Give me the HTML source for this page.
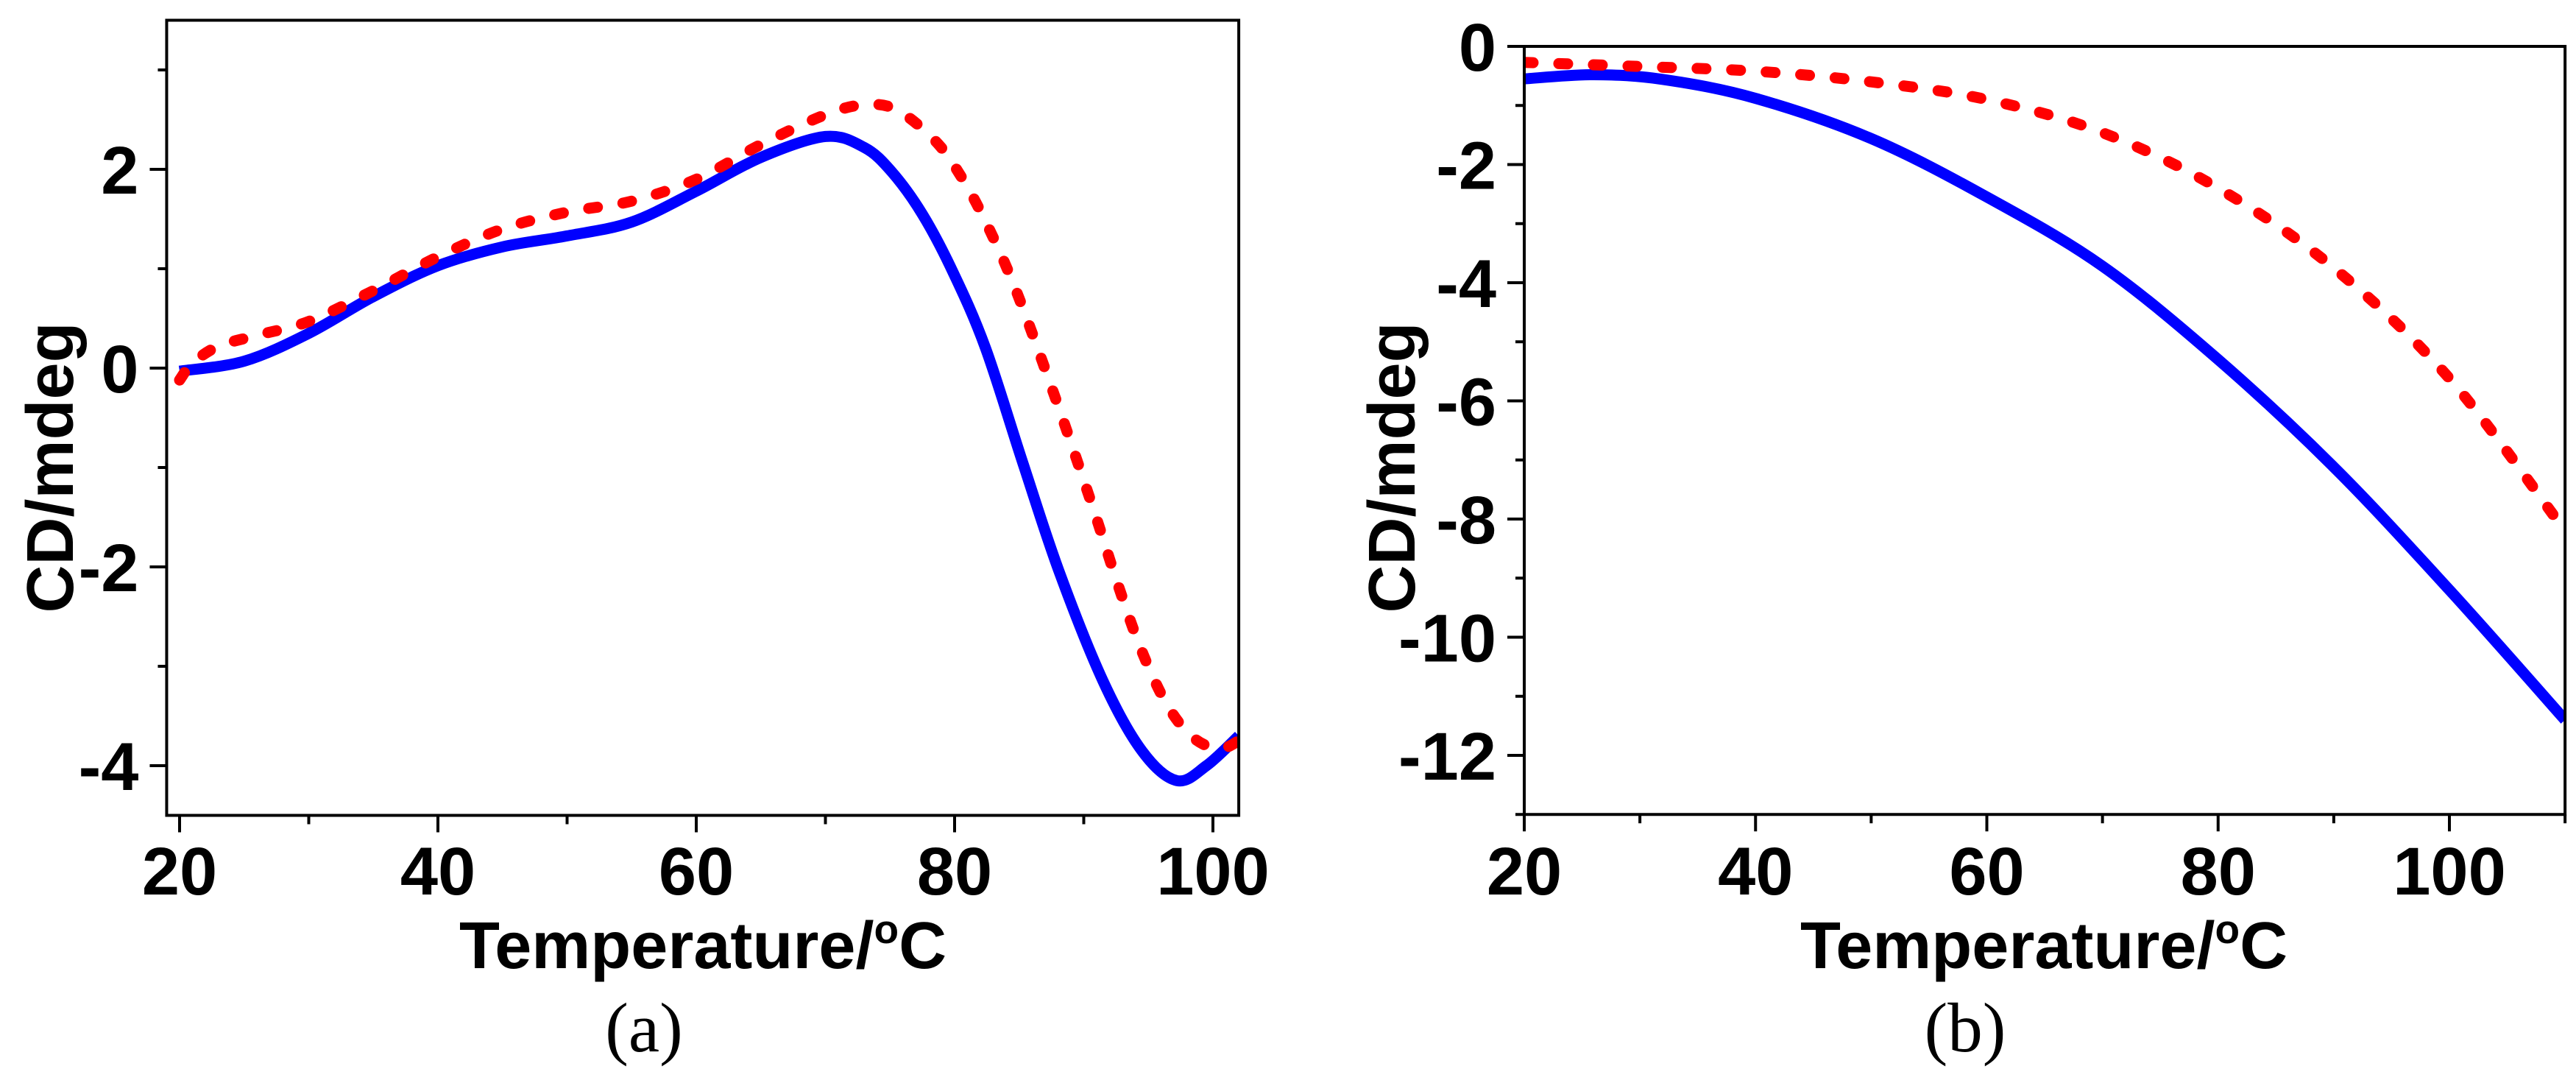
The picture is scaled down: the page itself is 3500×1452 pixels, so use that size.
<!DOCTYPE html>
<html><head><meta charset="utf-8"><style>
html,body{margin:0;padding:0;background:#fff}
svg{display:block}
text{font-family:"Liberation Sans",Arial,sans-serif;font-weight:bold;fill:#000}
.cap{font-family:"Liberation Serif",serif;font-weight:normal}
</style></head><body>
<svg id="fig" width="3500" height="1452" viewBox="0 0 3500 1452" xmlns="http://www.w3.org/2000/svg"></svg>
<script>
// Panel (a) data
const aBlueT=[20,25,30,35,40,45,50,55,60,65,70,73,75.1,77.5,79.9,82.4,85.3,88.1,91.5,94.5,97.2,99.5,102];
const aBlueV=[-0.03,0.07,0.35,0.72,1.03,1.22,1.33,1.47,1.78,2.12,2.33,2.22,1.98,1.55,0.96,0.2,-0.96,-2.05,-3.15,-3.85,-4.15,-4.0,-3.7];
const aRedT=[20,21,23,26,30,35,40,45,50,55,60,65,70,73,75.5,78.4,80.3,82.3,84.7,87.8,90.7,92.7,94.5,96.5,98.5,100.5,102];
const aRedV=[-0.12,0.05,0.22,0.33,0.47,0.78,1.12,1.4,1.57,1.68,1.9,2.25,2.55,2.65,2.6,2.3,1.97,1.5,0.8,-0.3,-1.4,-2.2,-2.85,-3.4,-3.72,-3.83,-3.75];
const aXTicks=[20,40,60,80,100];
const aYTicks=[2,0,-2,-4];
// Panel (b) data
const bBlueT=[20,26,32,40,50,60,70,80,90,100,110];
const bBlueV=[-0.55,-0.48,-0.56,-0.88,-1.56,-2.55,-3.72,-5.3,-7.12,-9.2,-11.4];
const bRedT=[20,30,40,50,60,70,80,90,100,110];
const bRedV=[-0.27,-0.34,-0.42,-0.6,-0.9,-1.46,-2.4,-3.75,-5.62,-8.2];
const bXTicks=[20,40,60,80,100];
const bYTicks=[0,-2,-4,-6,-8,-10,-12];

const NS="http://www.w3.org/2000/svg";
const svg=document.getElementById('fig');
function mk(tag,attrs,parent){const e=document.createElementNS(NS,tag);for(const k in attrs)e.setAttribute(k,attrs[k]);(parent||svg).appendChild(e);return e;}
function smooth(pts){let d='M'+pts[0][0].toFixed(1)+','+pts[0][1].toFixed(1);
 for(let i=0;i<pts.length-1;i++){const p0=pts[Math.max(0,i-1)],p1=pts[i],p2=pts[i+1],p3=pts[Math.min(pts.length-1,i+2)];
  const c1=[p1[0]+(p2[0]-p0[0])/6,p1[1]+(p2[1]-p0[1])/6],c2=[p2[0]-(p3[0]-p1[0])/6,p2[1]-(p3[1]-p1[1])/6];
  d+='C'+c1[0].toFixed(1)+','+c1[1].toFixed(1)+' '+c2[0].toFixed(1)+','+c2[1].toFixed(1)+' '+p2[0].toFixed(1)+','+p2[1].toFixed(1);}
 return d;}

function panel(cfg){
 const g=mk('g',{});
 
 
 const X=t=>cfg.px0+(t-cfg.x0)/(cfg.x1-cfg.x0)*(cfg.px1-cfg.px0);
 const Y=v=>cfg.py0+(v-cfg.y0)/(cfg.y1-cfg.y0)*(cfg.py1-cfg.py0);
 const L=X(cfg.xmin),R=X(cfg.xmax),T=Y(cfg.ymax),B=Y(cfg.ymin);
 const cid='clip'+cfg.name;
 const cp=mk('clipPath',{id:cid},g);mk('rect',{x:L,y:T,width:R-L,height:B-T},cp);
 const blue=mk('path',{d:smooth(cfg.bt.map((t,i)=>[X(t),Y(cfg.bv[i])])),fill:'none',stroke:'#0000ff','stroke-width':15,'clip-path':'url(#'+cid+')'},g);
 
 
 const red=mk('path',{d:smooth(cfg.rt.map((t,i)=>[X(t),Y(cfg.rv[i])])),fill:'none',stroke:'#ff0000','stroke-width':15,'stroke-dasharray':'12 35','stroke-linecap':'round','clip-path':'url(#'+cid+')'},g);
 
 
 const fr=mk('rect',{x:L,y:T,width:R-L,height:B-T,fill:'none',stroke:'#000','stroke-width':4},g);
 
 
 for(let t=cfg.x0;t<=cfg.xmax+0.01;t+=10){
  const major=(Math.round(t)%20===0);
  mk('line',{x1:X(t),x2:X(t),y1:B,y2:B+(major?23:12),stroke:'#000','stroke-width':4},g);
 }
 cfg.xt.forEach(t=>{const tx=mk('text',{x:X(t),y:1215,'font-size':92,'text-anchor':'middle'},g);tx.textContent=t;
  
  });
 for(let v=Math.ceil(cfg.ymin);v<=cfg.ymax+0.01;v+=1){
  const major=(Math.abs(Math.round(v))%2===0);
  mk('line',{x1:L,x2:L-(major?23:12),y1:Y(v),y2:Y(v),stroke:'#000','stroke-width':4},g);
 }
 cfg.yt.forEach(v=>{const tx=mk('text',{x:L-38,y:Y(v)+33,'font-size':92,'text-anchor':'end'},g);tx.textContent=v;
  
  });
 const yt=mk('text',{x:0,y:0,'font-size':90,'text-anchor':'middle',transform:'translate('+cfg.ytx+',635) rotate(-90)'},g);
 yt.textContent='CD/mdeg';
 
 
 const xt=mk('text',{x:cfg.xtx,y:1315,'font-size':90,'text-anchor':'middle'},g);
 xt.innerHTML='Temperature/<tspan dy="-34" font-size="55">o</tspan><tspan dy="34">C</tspan>';
 
 
 const cap=mk('text',{x:cfg.capx,y:1428,'font-size':95,'text-anchor':'middle','class':'cap'},g);
 cap.textContent=cfg.cap;
 
 
}

panel({name:'panel-a',x0:20,x1:100,px0:244,px1:1648,xmin:19,xmax:102,
 y0:2,y1:-4,py0:230,py1:1040,ymin:-4.5,ymax:3.5,
 bt:aBlueT,bv:aBlueV,rt:aRedT,rv:aRedV,xt:aXTicks,yt:aYTicks,ytx:99,xtx:955,capx:875,cap:'(a)'});
panel({name:'panel-b',x0:20,x1:100,px0:2071,px1:3328,xmin:20,xmax:110,
 y0:0,y1:-12,py0:63,py1:1026,ymin:-13,ymax:0,
 bt:bBlueT,bv:bBlueV,rt:bRedT,rv:bRedV,xt:bXTicks,yt:bYTicks,ytx:1922,xtx:2777,capx:2670,cap:'(b)'});
</script>
</body></html>
